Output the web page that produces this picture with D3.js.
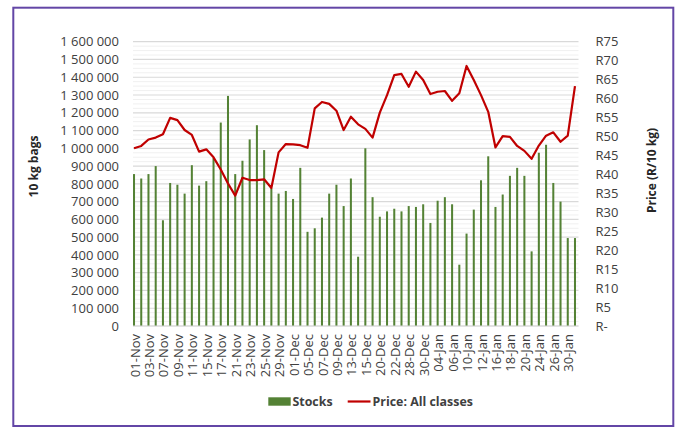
<!DOCTYPE html>
<html>
<head>
<meta charset="utf-8">
<script src="https://cdn.jsdelivr.net/npm/d3@7"></script>
<style>
  html, body { margin: 0; padding: 0; background: #fff; }
  svg { display: block; font-family: "Open Sans", sans-serif; }
</style>
</head>
<body>
<svg id="chart" width="678" height="427"></svg>
<script>
const dates = ["01-Nov","02-Nov","03-Nov","04-Nov","07-Nov","08-Nov","09-Nov","10-Nov","11-Nov","14-Nov",
  "15-Nov","16-Nov","17-Nov","18-Nov","21-Nov","22-Nov","23-Nov","24-Nov","25-Nov","28-Nov",
  "29-Nov","30-Nov","01-Dec","02-Dec","05-Dec","06-Dec","07-Dec","08-Dec","09-Dec","12-Dec",
  "13-Dec","14-Dec","15-Dec","19-Dec","20-Dec","21-Dec","22-Dec","27-Dec","28-Dec","29-Dec",
  "30-Dec","03-Jan","04-Jan","05-Jan","06-Jan","09-Jan","10-Jan","11-Jan","12-Jan","13-Jan",
  "16-Jan","17-Jan","18-Jan","19-Jan","20-Jan","23-Jan","24-Jan","25-Jan","26-Jan","27-Jan",
  "30-Jan","31-Jan"];

const stocks = [855000,830000,855000,900000,595000,805000,795000,745000,905000,790000,
  815000,945000,1145000,1295000,855000,930000,1050000,1130000,990000,775000,
  745000,760000,715000,890000,530000,550000,610000,745000,795000,675000,
  830000,390000,1000000,725000,615000,645000,660000,645000,675000,670000,
  685000,580000,705000,725000,685000,345000,520000,655000,820000,955000,
  670000,740000,845000,890000,845000,420000,975000,1020000,805000,700000,
  495000,495000];

const price = [46.9,47.5,49.2,49.7,50.6,54.9,54.3,51.7,50.4,46.0,
  46.6,44.5,41.3,37.6,34.4,39.1,38.5,38.5,38.7,36.4,
  45.8,48.0,47.9,47.7,47.0,57.4,59.1,58.6,56.8,51.7,
  55.2,53.2,52.0,49.7,56.3,60.9,66.2,66.5,63.1,67.1,
  64.9,61.2,61.8,62.0,59.4,61.4,68.6,64.9,60.9,56.5,
  47.1,50.1,49.9,47.5,46.2,44.1,47.6,50.2,51.1,48.6,
  50.2,63.3];

const leftTicks = [0,100000,200000,300000,400000,500000,600000,700000,800000,
  900000,1000000,1100000,1200000,1300000,1400000,1500000,1600000];
const rightTicks = [0,5,10,15,20,25,30,35,40,45,50,55,60,65,70,75];
const seriesNames = ["Stocks", "Price: All classes"];
const axisTitles = ["10 kg bags", "Price (R/10 kg)"];

const svg = d3.select("#chart");
const plotTop = 41.7, plotBottom = 326, gridLeft = 133, gridRight = 578.5;

const x = d3.scaleBand().domain(dates).range([130.4, 578.6]).paddingInner(0.72).paddingOuter(0.36);
const yL = d3.scaleLinear().domain([0, 1600000]).range([plotBottom, plotTop]);
const yR = d3.scaleLinear().domain([0, 75]).range([plotBottom, plotTop]);
const cx = d => x(d) + x.bandwidth() / 2;

// border
svg.append("rect").attr("x", 13.3).attr("y", 7.7).attr("width", 660).attr("height", 418.3)
  .attr("fill", "#fff").attr("stroke", "#6346a6").attr("stroke-width", 2);

// minor gridlines
const minor = d3.range(0, 1600001, 25000).filter(v => v % 100000 !== 0);
svg.append("g").selectAll("line").data(minor).join("line")
  .attr("x1", gridLeft).attr("x2", gridRight)
  .attr("y1", d => yL(d)).attr("y2", d => yL(d))
  .attr("stroke", "#f0f0f0").attr("stroke-width", 1);

// major gridlines
svg.append("g").selectAll("line").data(leftTicks).join("line")
  .attr("x1", gridLeft).attr("x2", gridRight)
  .attr("y1", d => yL(d)).attr("y2", d => yL(d))
  .attr("stroke", "#d9d9d9").attr("stroke-width", 1.2);

// left axis
const fmt = v => d3.format(",")(v).replace(/,/g, " ");
const gl = svg.append("g").attr("transform", "translate(119,0)")
  .call(d3.axisLeft(yL).tickValues(leftTicks).tickFormat(fmt).tickSize(0).tickPadding(0));
gl.select(".domain").remove();
gl.selectAll("text").attr("font-size", 13).attr("fill", "#404040").attr("font-family", "Open Sans");

// right axis
const gr = svg.append("g").attr("transform", "translate(595.5,0)")
  .call(d3.axisRight(yR).tickValues(rightTicks).tickFormat(v => v === 0 ? "R-" : "R" + v).tickSize(0).tickPadding(0));
gr.select(".domain").remove();
gr.selectAll("text").attr("font-size", 13).attr("fill", "#404040").attr("font-family", "Open Sans");

// bars
svg.append("g").selectAll("rect").data(dates).join("rect")
  .attr("x", d => x(d))
  .attr("width", x.bandwidth())
  .attr("y", (d, i) => yL(stocks[i]))
  .attr("height", (d, i) => plotBottom - yL(stocks[i]))
  .attr("fill", "#548235");

// bottom axis
const labelDates = dates.filter((d, i) => i % 2 === 0);
const gx = svg.append("g").attr("transform", `translate(0,${plotBottom})`)
  .call(d3.axisBottom(x).tickValues(labelDates).tickSize(0).tickPadding(0));
gx.select(".domain").attr("d", `M${gridLeft},0H${gridRight}`).attr("stroke", "#d9d9d9");
gx.selectAll("text")
  .attr("font-size", 13).attr("fill", "#404040").attr("font-family", "Open Sans")
  .attr("text-anchor", "end")
  .attr("transform", "translate(1,8) rotate(-90)")
  .attr("dy", "0.35em").attr("y", 0).attr("x", 0);

// line
const line = d3.line().x((d, i) => cx(dates[i])).y(d => yR(d));
svg.append("path").datum(price).attr("d", line)
  .attr("fill", "none").attr("stroke", "#c00000").attr("stroke-width", 2.2)
  .attr("stroke-linejoin", "round");

// axis titles
svg.append("text").attr("transform", "translate(38,166.5) rotate(-90)")
  .attr("text-anchor", "middle").attr("font-size", 12).attr("font-weight", "bold")
  .attr("fill", "#262626").text(axisTitles[0]);
svg.append("text").attr("transform", "translate(656,170.5) rotate(-90)")
  .attr("text-anchor", "middle").attr("font-size", 12).attr("font-weight", "bold")
  .attr("fill", "#262626").text(axisTitles[1]);

// legend
const lg = svg.append("g");
lg.append("rect").attr("x", 268.3).attr("y", 397.3).attr("width", 22.4).attr("height", 8.4).attr("fill", "#548235");
lg.append("text").attr("x", 292.5).attr("y", 405.8).attr("font-size", 12.4).attr("font-weight", "bold")
  .attr("fill", "#404040").text(seriesNames[0]);
lg.append("line").attr("x1", 347.7).attr("x2", 370.5).attr("y1", 401.5).attr("y2", 401.5)
  .attr("stroke", "#c00000").attr("stroke-width", 2.2);
lg.append("text").attr("x", 372.5).attr("y", 405.8).attr("font-size", 12.4).attr("font-weight", "bold")
  .attr("fill", "#404040").text(seriesNames[1]);
</script>
</body>
</html>
